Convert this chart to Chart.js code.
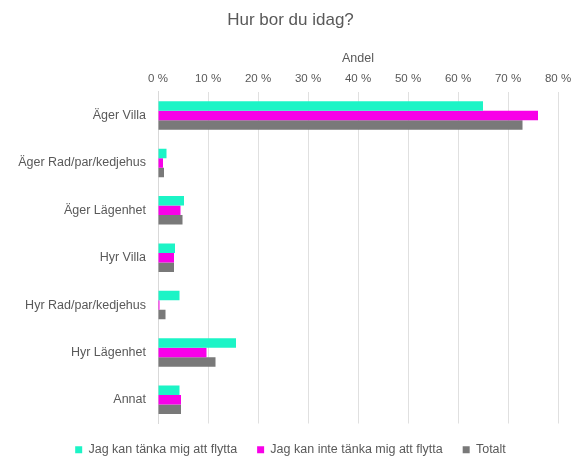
<!DOCTYPE html>
<html>
<head>
<meta charset="utf-8">
<script src="https://cdn.jsdelivr.net/npm/chart.js@4"></script>
<style>
  html, body { margin: 0; padding: 0; background: #fff; }
  #wrap { width: 571px; height: 456px; }
</style>
</head>
<body>
<div id="wrap"><canvas id="chart"></canvas></div>
<script>
const categories = ['Äger Villa', 'Äger Rad/par/kedjehus', 'Äger Lägenhet', 'Hyr Villa', 'Hyr Rad/par/kedjehus', 'Hyr Lägenhet', 'Annat'];
const kanFlytta = [65.0, 1.7, 5.2, 3.4, 4.3, 15.6, 4.3];
const kanInteFlytta = [76.0, 1.0, 4.5, 3.2, 0.3, 9.7, 4.6];
const totalt = [72.9, 1.2, 4.9, 3.2, 1.5, 11.5, 4.6];
const xTicks = [0, 10, 20, 30, 40, 50, 60, 70, 80];

const font = "'Liberation Sans', Arial, sans-serif";
const textColor = '#595959';

function createDataset(label, data, color) {
    return {
        label,
        data,
        backgroundColor: color,
        borderWidth: 0,
        categoryPercentage: 0.6,
        barPercentage: 1.0
    };
}

const ctx = document.getElementById('chart').getContext('2d');
new Chart(ctx, {
    type: 'bar',
    data: {
        labels: categories,
        datasets: [
            createDataset('Jag kan tänka mig att flytta', kanFlytta, '#1cf4c6'),
            createDataset('Jag kan inte tänka mig att flytta', kanInteFlytta, '#f800e8'),
            createDataset('Totalt', totalt, '#797979')
        ]
    },
    options: {
        indexAxis: 'y',
        responsive: true,
        maintainAspectRatio: false,
        animation: false,
        layout: { padding: { left: 10, right: 0, top: 8, bottom: -10 } },
        plugins: {
            title: {
                display: true,
                text: 'Hur bor du idag?',
                color: textColor,
                font: { family: font, size: 17, weight: 'normal' },
                padding: { top: 2, bottom: 21 }
            },
            legend: {
                position: 'bottom',
                labels: {
                    boxWidth: 7,
                    boxHeight: 7,
                    color: textColor,
                    font: { family: font, size: 12.5 },
                    padding: 20
                }
            },
            tooltip: { enabled: false }
        },
        scales: {
            x: {
                position: 'top',
                min: 0,
                max: 80,
                afterBuildTicks: axis => { axis.ticks = xTicks.map(v => ({ value: v })); },
                afterFit: axis => { axis.paddingRight = 13; },
                ticks: {
                    color: textColor,
                    font: { family: font, size: 11.5, lineHeight: 1 },
                    padding: 7,
                    callback: v => v + ' %'
                },
                grid: { color: '#e0e0e0', drawTicks: false },
                border: { display: false },
                title: {
                    display: true,
                    text: 'Andel',
                    color: textColor,
                    font: { family: font, size: 12.5 },
                    padding: { top: 0, bottom: 0 }
                }
            },
            y: {
                ticks: {
                    color: textColor,
                    font: { family: font, size: 12.5 },
                    padding: 12
                },
                grid: { display: false, drawTicks: false },
                border: { color: '#d9d9d9' },
                afterFit: axis => { axis.width = 148; }
            }
        }
    }
});
</script>
</body>
</html>
